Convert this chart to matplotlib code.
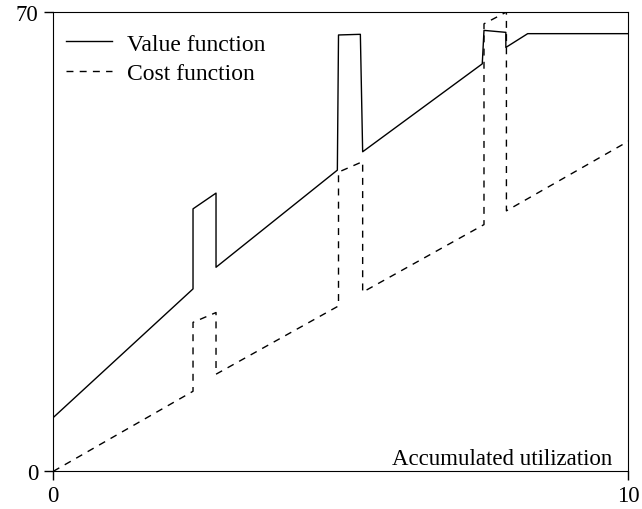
import matplotlib.pyplot as plt

plt.rcParams['font.family'] = ['Liberation Serif', 'DejaVu Serif']

# value function (breakpoints)
value_x = [0, 2.43, 2.43, 2.83, 2.83, 4.94, 4.96, 5.34, 5.38, 7.46, 7.49, 7.87, 7.87, 8.25, 10]
value_y = [8.2, 27.8, 40.0, 42.4, 31.1, 45.9, 66.5, 66.6, 48.7, 62.1, 67.2, 66.9, 64.6, 66.7, 66.7]

# cost function
cost_x = [0, 2.43, 2.43, 2.83, 2.83, 4.96, 4.96, 5.38, 5.38, 7.49, 7.49, 7.88, 7.88, 10]
cost_y = [0, 12.2, 22.7, 24.2, 14.8, 25.2, 45.6, 47.2, 27.3, 37.6, 68.2, 70.0, 39.7, 50.3]

fig = plt.figure(figsize=(6.42, 5.10), dpi=100)
ax = fig.add_axes([0.083, 0.0739, 0.8957, 0.9006])

ax.plot(value_x, value_y, color='black', lw=1.0, label='Value function')
ax.plot(cost_x, cost_y, color='black', lw=1.0, linestyle=(0, (5, 4.5)), label='Cost function')

ax.set_xlim(0, 10)
ax.set_ylim(0, 70)
ax.set_xticks([0, 10])
ax.set_yticks([0, 70])
ax.tick_params(direction='out', length=6.5, width=1, labelsize=16.5)
ax.tick_params(axis='x', pad=3.5)
ax.tick_params(axis='y', pad=4.5)

ax.text(0.972, 0.015, 'Accumulated utilization', transform=ax.transAxes,
        ha='right', va='baseline', fontsize=16.5)

ax.legend(loc='upper left', bbox_to_anchor=(0.0226, 0.954), frameon=False,
          fontsize=17, handlelength=1.95, handletextpad=0.64,
          borderaxespad=0, borderpad=0, labelspacing=0.35)

fig.savefig('out.png', dpi=100)
